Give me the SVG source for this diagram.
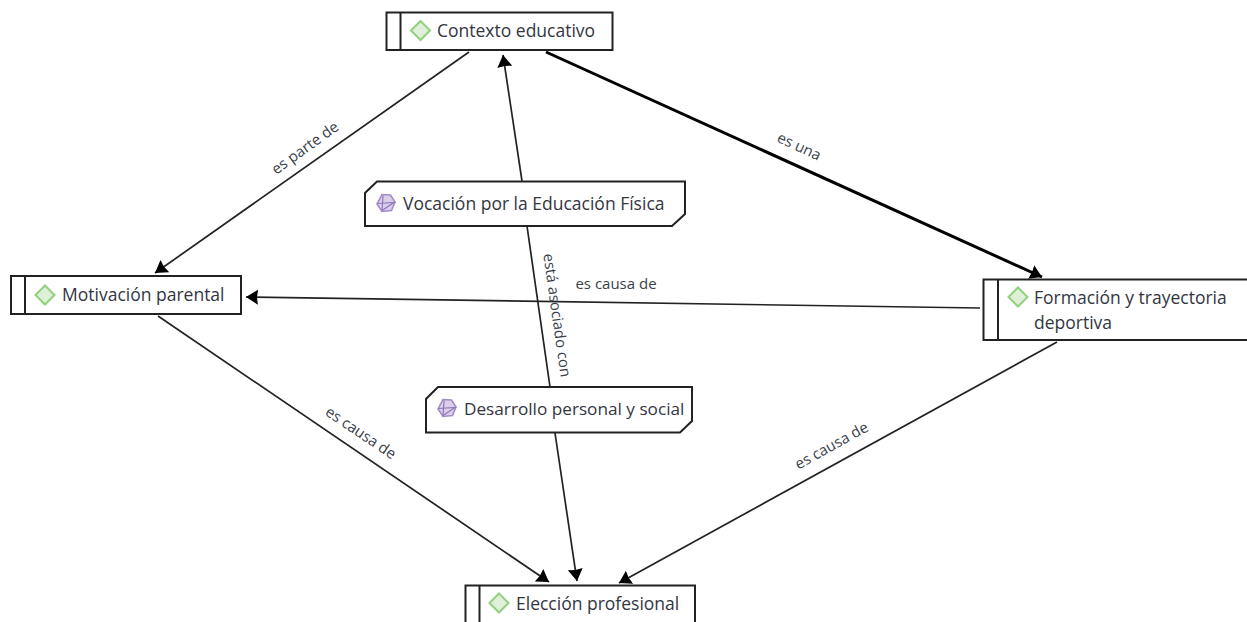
<svg xmlns="http://www.w3.org/2000/svg" width="1247" height="622" viewBox="0 0 1247 622">
<style>
.box{fill:#fff;stroke:#222;stroke-width:2}
.t{font-family:"Open Sans","Noto Sans",sans-serif;font-size:17.5px;font-weight:500;fill:#33363f}
.l{font-family:"Open Sans","Noto Sans",sans-serif;font-size:15px;fill:#3b3f4a;text-anchor:middle}
.c{fill:none;stroke:#222;stroke-width:1.7}
.dia{fill:#dff0d8;stroke:#92d07e;stroke-width:2}
.ico{fill:#d9cfe8;stroke:#a48ccb;stroke-width:1.6}
.icl{fill:none;stroke:#8f76bc;stroke-width:1.2}
</style>
<defs>
<marker id="a" markerUnits="userSpaceOnUse" markerWidth="16" markerHeight="16" refX="12" refY="7.500" orient="auto"><path d="M0 0L12 7.500L0 15L1 7.500z" fill="#000"/></marker>
<g id="d"><path class="dia" d="M0-9.500L9.500 0L0 9.500L-9.500 0z"/></g>
<g id="p"><path class="ico" d="M-4-8.500L4.500-8L9-1L5.500 7.500L-4 8.500L-9 1z"/><path class="icl" d="M-3-7.500L-4 7.500L8-0.500L-8.500 0.500"/></g>
</defs>
<g id="connectors">
<path class="c" marker-end="url(#a)" d="M469 52L155 273"/>
<path class="c" style="stroke:#000;stroke-width:3" marker-end="url(#a)" d="M546 52L1042 277"/>
<path class="c" marker-end="url(#a)" d="M522 181L503 55"/>
<path class="c" d="M527 226L550 387"/>
<path class="c" marker-end="url(#a)" d="M555 433L577 581"/>
<path class="c" marker-end="url(#a)" d="M980 308L246 297"/>
<path class="c" marker-end="url(#a)" d="M158 316L549 582"/>
<path class="c" marker-end="url(#a)" d="M1057 342L619 583"/>
<text class="l" transform="translate(308 152) rotate(-36)">es parte de</text>
<text class="l" transform="translate(797 151) rotate(25)">es una</text>
<text class="l" transform="translate(616 289)">es causa de</text>
<text class="l" transform="translate(552 316) rotate(82)">está asociado con</text>
<text class="l" transform="translate(358 437) rotate(34)">es causa de</text>
<text class="l" transform="translate(834 450) rotate(-29)">es causa de</text>
</g>
<g id="n-contexto"><rect class="box" x="386.500" y="12.500" width="226" height="37.500"/><path class="box" d="M400.500 12.500V50"/><use href="#d" x="420.500" y="30.500"/><text class="t" x="437" y="37">Contexto educativo</text></g>
<g id="n-motivacion"><rect class="box" x="11" y="276" width="230" height="38"/><path class="box" d="M25 276V314"/><use href="#d" x="45" y="295"/><text class="t" x="62" y="301">Motivación parental</text></g>
<g id="n-formacion"><rect class="box" x="983.500" y="279.500" width="266" height="60.500"/><path class="box" d="M998 279.500V340"/><use href="#d" x="1018" y="297"/><text class="t" x="1034" y="304">Formación y trayectoria</text><text class="t" x="1034" y="329">deportiva</text></g>
<g id="n-eleccion"><rect class="box" x="465.500" y="585.500" width="229.500" height="40"/><path class="box" d="M479.500 585.500V625"/><use href="#d" x="499" y="603"/><text class="t" x="516" y="610">Elección profesional</text></g>
<g id="n-vocacion"><path class="box" d="M377 181.500H685V214L672 226H365V193z"/><use href="#p" x="386" y="203"/><text class="t" x="403" y="210">Vocación por la Educación Física</text></g>
<g id="n-desarrollo"><path class="box" d="M438 387H692V421L680 432.500H426V399z"/><use href="#p" x="447" y="408"/><text class="t" x="464" y="415" style="font-size:17.2px">Desarrollo personal y social</text></g>
</svg>
